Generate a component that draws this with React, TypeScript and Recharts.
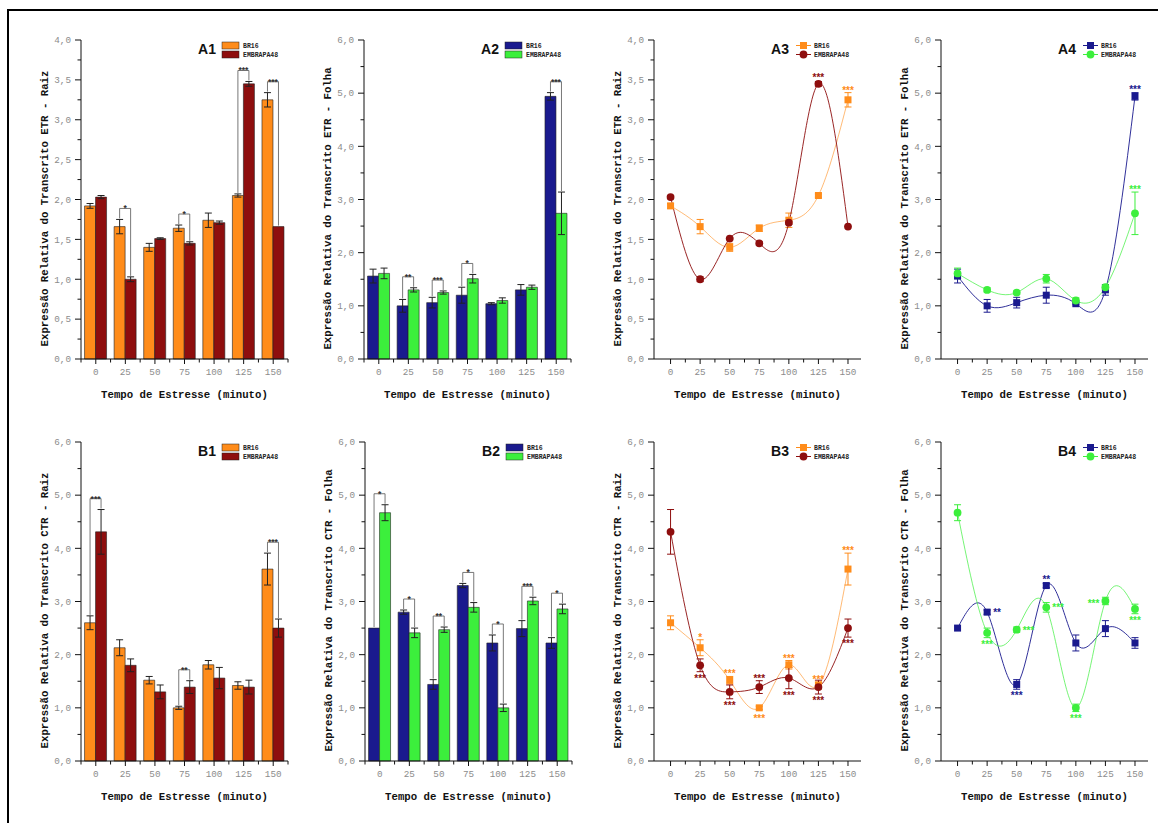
import React from 'react';
import { BarChart, Bar, LineChart, Line, XAxis, YAxis, ErrorBar, LabelList, Label } from 'recharts';

const times = [0, 25, 50, 75, 100, 125, 150];

// ETR - Raiz (A1 / A3)
const etrRaizBR16 = [1.92, 1.66, 1.4, 1.64, 1.74, 2.05, 3.25];
const etrRaizBR16Err = [0.03, 0.09, 0.05, 0.04, 0.09, 0.02, 0.09];
const etrRaizEmb = [2.03, 1.0, 1.51, 1.45, 1.71, 3.45, 1.66];
const etrRaizEmbErr = [0.02, 0.03, 0.01, 0.02, 0.02, 0.03, 0];
const etrRaizSig = ['', '*', '', '*', '', '***', '***'];

// ETR - Folha (A2 / A4)
const etrFolhaBR16 = [1.56, 1.0, 1.06, 1.2, 1.04, 1.3, 4.94];
const etrFolhaBR16Err = [0.13, 0.12, 0.1, 0.15, 0.02, 0.1, 0.07];
const etrFolhaEmb = [1.61, 1.3, 1.25, 1.51, 1.1, 1.35, 2.74];
const etrFolhaEmbErr = [0.1, 0.04, 0.03, 0.08, 0.05, 0.04, 0.4];
const etrFolhaSig = ['', '**', '***', '*', '', '', '***'];

// CTR - Raiz (B1 / B3)
const ctrRaizBR16 = [2.6, 2.13, 1.52, 1.0, 1.81, 1.42, 3.61];
const ctrRaizBR16Err = [0.13, 0.15, 0.07, 0.03, 0.08, 0.07, 0.3];
const ctrRaizEmb = [4.31, 1.8, 1.3, 1.39, 1.56, 1.39, 2.5];
const ctrRaizEmbErr = [0.42, 0.12, 0.13, 0.12, 0.2, 0.13, 0.17];
const ctrRaizSig = ['***', '', '', '**', '', '', '***'];

// CTR - Folha (B2 / B4)
const ctrFolhaBR16 = [2.5, 2.8, 1.44, 3.3, 2.22, 2.49, 2.22];
const ctrFolhaBR16Err = [0, 0.04, 0.09, 0.04, 0.15, 0.15, 0.1];
const ctrFolhaEmb = [4.67, 2.41, 2.47, 2.89, 1.0, 3.01, 2.86];
const ctrFolhaEmbErr = [0.15, 0.09, 0.05, 0.09, 0.07, 0.07, 0.09];
const ctrFolhaSig = ['*', '*', '**', '*', '*', '***', '*'];

// significance marks on the line panels
const a3SigBR16 = ['', '', '', '', '', '', '***'];
const a3PosBR16 = ['', '', '', '', '', '', 'above'];
const a3SigEmb = ['', '', '', '', '', '***', ''];
const a3PosEmb = ['', '', '', '', '', 'above', ''];
const a4SigBR16 = ['', '', '', '', '', '', '***'];
const a4PosBR16 = ['', '', '', '', '', '', 'above'];
const a4SigEmb = ['', '', '', '', '', '', '***'];
const a4PosEmb = ['', '', '', '', '', '', 'above'];
const b3SigBR16 = ['', '*', '***', '***', '***', '***', '***'];
const b3PosBR16 = ['', 'above', 'above', 'below', 'above', 'above', 'above'];
const b3SigEmb = ['', '***', '***', '***', '***', '***', '***'];
const b3PosEmb = ['', 'below', 'below', 'above', 'below', 'below', 'below'];
const b4SigBR16 = ['', '**', '***', '**', '', '', ''];
const b4PosBR16 = ['', 'right', 'below', 'above', '', '', ''];
const b4SigEmb = ['', '***', '***', '***', '***', '***', '***'];
const b4PosEmb = ['', 'below', 'right', 'right', 'below', 'left', 'below'];

const yTicks4 = [0, 0.25, 0.5, 0.75, 1, 1.25, 1.5, 1.75, 2, 2.25, 2.5, 2.75, 3, 3.25, 3.5, 3.75, 4];
const yTicks6 = [0, 0.5, 1, 1.5, 2, 2.5, 3, 3.5, 4, 4.5, 5, 5.5, 6];
const lineXTicks = [0, 12.5, 25, 37.5, 50, 62.5, 75, 87.5, 100, 112.5, 125, 137.5, 150];

const xTitle = 'Tempo de Estresse (minuto)';

const ORANGE = '#FF8C1A';
const DARKRED = '#8E0E0E';
const NAVY = '#1A1A8E';
const GREEN = '#3CEF3C';

const MONO = '"Liberation Mono", "DejaVu Sans Mono", monospace';
const SANS = '"Liberation Sans", Arial, sans-serif';

const PLOT_W = 207;
const PLOT_H = 319;
const ML = 60;
const MT = 30;
const MR = 10;
const MB = 45;
const CHART_W = ML + PLOT_W + MR;
const CHART_H = MT + PLOT_H + MB;

const fmt = (v: number) => v.toFixed(1).replace('.', ',');

const YTick = (props: any) => {
  const { x, y, payload, major } = props;
  const v = payload.value;
  const isMajor = Math.abs(v / major - Math.round(v / major)) < 1e-6;
  return (
    <g>
      <line x1={x} x2={x - (isMajor ? 6 : 3.5)} y1={y} y2={y} stroke="#111" strokeWidth={1} />
      {isMajor && (
        <text x={x - 10} y={y} dy={3.3} textAnchor="end" fontSize={9.3} fontFamily={MONO} fill="#8c8c8c">
          {fmt(v)}
        </text>
      )}
    </g>
  );
};

const BarXTick = (props: any) => {
  const { x, y, payload, index } = props;
  const half = payload.offset || 14.8;
  return (
    <g>
      <line x1={x} x2={x} y1={y} y2={y + 5} stroke="#111" />
      <line x1={x + half} x2={x + half} y1={y} y2={y + 3.5} stroke="#111" />
      {index === 0 && <line x1={x - half} x2={x - half} y1={y} y2={y + 3.5} stroke="#111" />}
      <text x={x} y={y + 16} textAnchor="middle" fontSize={9.3} fontFamily={MONO} fill="#8c8c8c">
        {payload.value}
      </text>
    </g>
  );
};

const LineXTick = (props: any) => {
  const { x, y, payload } = props;
  const isMajor = payload.value % 25 === 0;
  return (
    <g>
      <line x1={x} x2={x} y1={y} y2={y + (isMajor ? 5 : 3.5)} stroke="#111" />
      {isMajor && (
        <text x={x} y={y + 16} textAnchor="middle" fontSize={9.3} fontFamily={MONO} fill="#8c8c8c">
          {payload.value}
        </text>
      )}
    </g>
  );
};

const yTitleContent = (title: string) => (p: any) => {
  const vb = p.viewBox;
  const cx = vb.x + vb.width - 36;
  const cy = vb.y + vb.height / 2 + 9;
  return (
    <text x={cx} y={cy} transform={`rotate(-90 ${cx} ${cy})`} textAnchor="middle" dominantBaseline="central"
      fontFamily={MONO} fontWeight="bold" fontSize={10.7} fill="#111">
      {title}
    </text>
  );
};

const xTitleContent = (p: any) => {
  const vb = p.viewBox;
  return (
    <text x={vb.x + vb.width / 2} y={vb.y + 36} textAnchor="middle" dominantBaseline="central"
      fontFamily={MONO} fontWeight="bold" fontSize={10.7} fill="#111">
      {xTitle}
    </text>
  );
};

const bracketLabel = (br: number[], brErr: number[], emb: number[], embErr: number[], sig: string[]) => (props: any) => {
  const vb = props.viewBox || props;
  const x = props.x ?? vb.x;
  const y = props.y ?? vb.y;
  const width = props.width ?? vb.width;
  const height = props.height ?? vb.height;
  const index = props.index;
  const s = sig[index];
  if (!s) return null;
  const ppu = height / emb[index];
  const base = y + height;
  const top1 = base - (br[index] + brErr[index]) * ppu - 1;
  const top2 = base - (emb[index] + embErr[index]) * ppu - 1;
  const by = Math.min(top1, top2) - 10;
  const cx1 = x - width / 2;
  const cx2 = x + width / 2;
  return (
    <g key={`bk${index}`}>
      <polyline points={`${cx1},${top1} ${cx1},${by} ${cx2},${by} ${cx2},${top2}`} fill="none" stroke="#555" strokeWidth={0.8} />
      <text x={(cx1 + cx2) / 2} y={by + 3} textAnchor="middle" fontSize={8.5} fontFamily={SANS} fontWeight="bold" fill="#333">
        {s}
      </text>
    </g>
  );
};

const starLabel = (sig: string[], pos: string[], errs: number[], color: string, yMax: number) => (props: any) => {
  const { x, y, index } = props;
  const s = sig[index];
  if (!s) return null;
  const e = Math.max(errs[index] * (PLOT_H / yMax), 4);
  let tx = x;
  let ty = y;
  let anchor = 'middle';
  switch (pos[index]) {
    case 'above':
      ty = y - e + 1;
      break;
    case 'below':
      ty = y + e + 10;
      break;
    case 'right':
      tx = x + 6;
      ty = y + 4;
      anchor = 'start';
      break;
    case 'left':
      tx = x - 6;
      ty = y + 6;
      anchor = 'end';
      break;
  }
  return (
    <text key={`st${index}`} x={tx} y={ty} textAnchor={anchor} fill={color} fontSize={10} fontFamily={SANS} fontWeight="bold">
      {s}
    </text>
  );
};

const squareDot = (color: string) => (p: any) => (
  <rect key={`sq${p.index}`} x={p.cx - 3.5} y={p.cy - 3.5} width={7} height={7} fill={color} />
);
const circleDot = (color: string) => (p: any) => (
  <circle key={`ci${p.index}`} cx={p.cx} cy={p.cy} r={3.9} fill={color} />
);

const PanelLegend = ({ label, kind, c1, c2 }: any) => {
  const R = ML + PLOT_W;
  const rows = [MT + 5.5, MT + 14.5];
  const names = ['BR16', 'EMBRAPA48'];
  const colors = [c1, c2];
  return (
    <svg width={CHART_W} height={CHART_H} style={{ position: 'absolute', left: 0, top: 0, pointerEvents: 'none' }}>
      <text x={R - 81} y={MT + 14} textAnchor="middle" fontFamily={SANS} fontWeight="bold" fontSize={14} fill="#111">
        {label}
      </text>
      {rows.map((ry, i) => (
        <g key={i}>
          {kind === 'bar' ? (
            <rect x={R - 66} y={ry - 3.5} width={17} height={7} fill={colors[i]} stroke="#222" strokeWidth={0.5} />
          ) : (
            <g>
              <line x1={R - 65} x2={R - 50} y1={ry} y2={ry} stroke={colors[i]} strokeWidth={1} />
              {i === 0 ? (
                <rect x={R - 61} y={ry - 3.5} width={7} height={7} fill={colors[i]} />
              ) : (
                <circle cx={R - 57.5} cy={ry} r={3.9} fill={colors[i]} />
              )}
            </g>
          )}
          <text x={kind === 'bar' ? R - 45 : R - 47} y={ry + 2.3} fontFamily={MONO} fontWeight="bold" fontSize={6.5} fill="#222">
            {names[i]}
          </text>
        </g>
      ))}
    </svg>
  );
};

const buildRows = (br: number[], brErr: number[], emb: number[], embErr: number[]) =>
  times.map((t, i) => ({ t, br: br[i], brErr: brErr[i], emb: emb[i], embErr: embErr[i] }));

const BarPanel = ({ left, top, label, yTitle, yMax, ticks, major, br, brErr, emb, embErr, sig, c1, c2 }: any) => {
  const data = buildRows(br, brErr, emb, embErr);
  return (
    <div style={{ position: 'absolute', left: left - ML, top: top - MT, width: CHART_W, height: CHART_H }}>
      <BarChart width={CHART_W} height={CHART_H} data={data} margin={{ top: MT, right: MR, left: 0, bottom: 0 }}
        barCategoryGap="12%" barGap={0}>
        <XAxis dataKey="t" type="category" height={MB} padding={{ left: 0, right: 0 }} axisLine={{ stroke: '#111' }}
          tickLine={false} tickSize={0} tickMargin={0} tick={<BarXTick />} interval={0}>
          <Label content={xTitleContent} />
        </XAxis>
        <YAxis width={ML} domain={[0, yMax]} ticks={ticks} interval={0} axisLine={{ stroke: '#111' }}
          tickLine={false} tickSize={0} tickMargin={0} tick={<YTick major={major} />}>
          <Label content={yTitleContent(yTitle)} />
        </YAxis>
        <Bar dataKey="br" fill={c1} stroke="#222" strokeWidth={0.6} isAnimationActive={false}>
          <ErrorBar dataKey="brErr" direction="y" width={3.5} stroke="#222" strokeWidth={1} />
        </Bar>
        <Bar dataKey="emb" fill={c2} stroke="#222" strokeWidth={0.6} isAnimationActive={false}>
          <ErrorBar dataKey="embErr" direction="y" width={3.5} stroke="#222" strokeWidth={1} />
          <LabelList dataKey="emb" content={bracketLabel(br, brErr, emb, embErr, sig)} />
        </Bar>
      </BarChart>
      <PanelLegend label={label} kind="bar" c1={c1} c2={c2} />
    </div>
  );
};

const LinePanel = ({ left, top, label, yTitle, yMax, ticks, major, br, brErr, emb, embErr, sig1, pos1, sig2, pos2, c1, c2, o1, o2 }: any) => {
  const data = buildRows(br, brErr, emb, embErr);
  return (
    <div style={{ position: 'absolute', left: left - ML, top: top - MT, width: CHART_W, height: CHART_H }}>
      <LineChart width={CHART_W} height={CHART_H} data={data} margin={{ top: MT, right: MR, left: 0, bottom: 0 }}>
        <XAxis dataKey="t" type="number" domain={[-14, 161]} allowDataOverflow ticks={lineXTicks} interval={0}
          height={MB} axisLine={{ stroke: '#111' }} tickLine={false} tickSize={0} tickMargin={0} tick={<LineXTick />}>
          <Label content={xTitleContent} />
        </XAxis>
        <YAxis width={ML} domain={[0, yMax]} ticks={ticks} interval={0} axisLine={{ stroke: '#111' }}
          tickLine={false} tickSize={0} tickMargin={0} tick={<YTick major={major} />}>
          <Label content={yTitleContent(yTitle)} />
        </YAxis>
        <Line type="natural" dataKey="br" stroke={c1} strokeOpacity={o1} strokeWidth={1} dot={squareDot(c1)}
          activeDot={false} isAnimationActive={false}>
          <ErrorBar dataKey="brErr" direction="y" width={3.5} stroke={c1} strokeWidth={1} />
          <LabelList dataKey="br" content={starLabel(sig1, pos1, brErr, c1, yMax)} />
        </Line>
        <Line type="natural" dataKey="emb" stroke={c2} strokeOpacity={o2} strokeWidth={1} dot={circleDot(c2)}
          activeDot={false} isAnimationActive={false}>
          <ErrorBar dataKey="embErr" direction="y" width={3.5} stroke={c2} strokeWidth={1} />
          <LabelList dataKey="emb" content={starLabel(sig2, pos2, embErr, c2, yMax)} />
        </Line>
      </LineChart>
      <PanelLegend label={label} kind="line" c1={c1} c2={c2} />
    </div>
  );
};

export default function App() {
  const topY = 40;
  const botY = 442;
  return (
    <div style={{ position: 'absolute', left: 0, top: 0, width: 1158, height: 823, background: '#fff', overflow: 'hidden' }}>
      <div style={{ position: 'absolute', left: 7, top: 9, width: 1170, height: 840, borderTop: '2px solid #000', borderLeft: '2px solid #000' }} />
      <BarPanel left={81} top={topY} label="A1" yTitle="Expressão Relativa do Transcrito ETR - Raiz" yMax={4}
        ticks={yTicks4} major={0.5} br={etrRaizBR16} brErr={etrRaizBR16Err} emb={etrRaizEmb} embErr={etrRaizEmbErr}
        sig={etrRaizSig} c1={ORANGE} c2={DARKRED} />
      <BarPanel left={364} top={topY} label="A2" yTitle="Expressão Relativa do Transcrito ETR - Folha" yMax={6}
        ticks={yTicks6} major={1} br={etrFolhaBR16} brErr={etrFolhaBR16Err} emb={etrFolhaEmb} embErr={etrFolhaEmbErr}
        sig={etrFolhaSig} c1={NAVY} c2={GREEN} />
      <LinePanel left={654} top={topY} label="A3" yTitle="Expressão Relativa do Transcrito ETR - Raiz" yMax={4}
        ticks={yTicks4} major={0.5} br={etrRaizBR16} brErr={etrRaizBR16Err} emb={etrRaizEmb} embErr={etrRaizEmbErr}
        sig1={a3SigBR16} pos1={a3PosBR16} sig2={a3SigEmb} pos2={a3PosEmb} c1={ORANGE} c2={DARKRED} o1={0.6} o2={0.9} />
      <LinePanel left={941} top={topY} label="A4" yTitle="Expressão Relativa do Transcrito ETR - Folha" yMax={6}
        ticks={yTicks6} major={1} br={etrFolhaBR16} brErr={etrFolhaBR16Err} emb={etrFolhaEmb} embErr={etrFolhaEmbErr}
        sig1={a4SigBR16} pos1={a4PosBR16} sig2={a4SigEmb} pos2={a4PosEmb} c1={NAVY} c2={GREEN} o1={0.9} o2={0.7} />
      <BarPanel left={81} top={botY} label="B1" yTitle="Expressão Relativa do Transcrito CTR - Raiz" yMax={6}
        ticks={yTicks6} major={1} br={ctrRaizBR16} brErr={ctrRaizBR16Err} emb={ctrRaizEmb} embErr={ctrRaizEmbErr}
        sig={ctrRaizSig} c1={ORANGE} c2={DARKRED} />
      <BarPanel left={365} top={botY} label="B2" yTitle="Expressão Relativa do Transcrito CTR - Folha" yMax={6}
        ticks={yTicks6} major={1} br={ctrFolhaBR16} brErr={ctrFolhaBR16Err} emb={ctrFolhaEmb} embErr={ctrFolhaEmbErr}
        sig={ctrFolhaSig} c1={NAVY} c2={GREEN} />
      <LinePanel left={654} top={botY} label="B3" yTitle="Expressão Relativa do Transcrito CTR - Raiz" yMax={6}
        ticks={yTicks6} major={1} br={ctrRaizBR16} brErr={ctrRaizBR16Err} emb={ctrRaizEmb} embErr={ctrRaizEmbErr}
        sig1={b3SigBR16} pos1={b3PosBR16} sig2={b3SigEmb} pos2={b3PosEmb} c1={ORANGE} c2={DARKRED} o1={0.6} o2={0.9} />
      <LinePanel left={941} top={botY} label="B4" yTitle="Expressão Relativa do Transcrito CTR - Folha" yMax={6}
        ticks={yTicks6} major={1} br={ctrFolhaBR16} brErr={ctrFolhaBR16Err} emb={ctrFolhaEmb} embErr={ctrFolhaEmbErr}
        sig1={b4SigBR16} pos1={b4PosBR16} sig2={b4SigEmb} pos2={b4PosEmb} c1={NAVY} c2={GREEN} o1={0.9} o2={0.7} />
    </div>
  );
}
